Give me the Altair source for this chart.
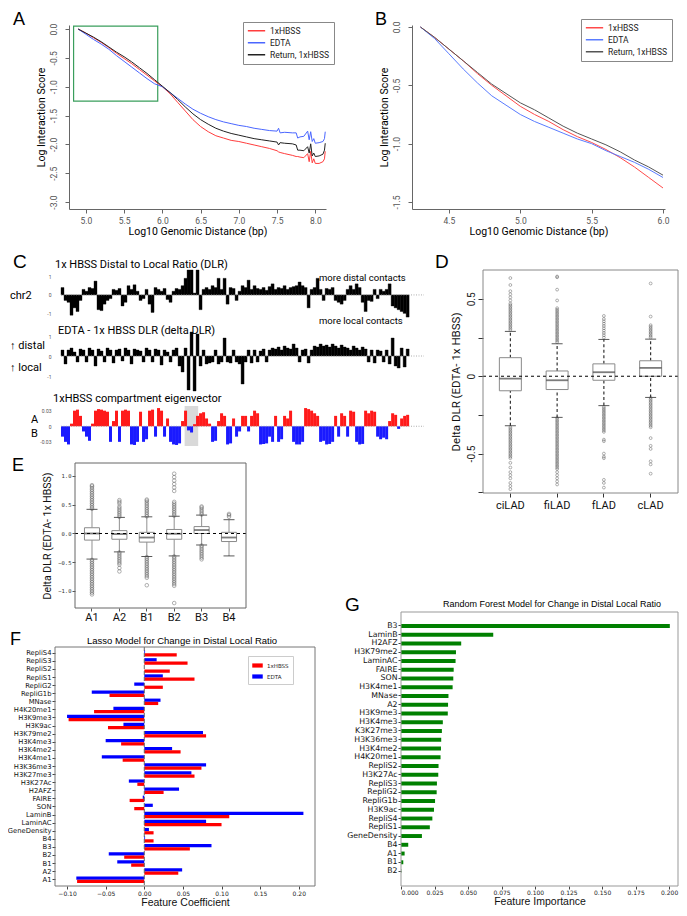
import altair as alt
import pandas as pd

SANS = "Roboto"
ARIAL = "Liberation Sans"
MPL = "DejaVu Sans"

# ---------------- Panel A: contact decay ----------------
A_X = [4.90, 5.00, 5.10, 5.20, 5.30, 5.40, 5.50, 5.60, 5.70, 5.80, 5.90, 6.00, 6.10, 6.20, 6.30,
       6.40, 6.50, 6.60, 6.70, 6.80, 6.90, 7.00, 7.10, 7.20, 7.30, 7.40, 7.50, 7.52, 7.54, 7.60,
       7.70, 7.75, 7.77, 7.80, 7.85, 7.90, 7.92, 7.94, 7.96, 7.98, 8.00, 8.05, 8.10, 8.12, 8.13]
A_HBSS = [0.00, -0.07, -0.15, -0.23, -0.32, -0.42, -0.51, -0.60, -0.70, -0.80, -0.90, -1.00, -1.12,
          -1.27, -1.42, -1.57, -1.69, -1.78, -1.85, -1.89, -1.93, -1.95, -1.98, -2.01, -2.04, -2.07,
          -2.11, -2.13, -2.14, -2.16, -2.19, -2.21, -2.21, -2.22, -2.23, -2.16, -2.30, -2.12, -2.32,
          -2.25, -2.33, -2.33, -2.30, -2.25, -2.12]
A_EDTA = [0.00, -0.09, -0.18, -0.26, -0.35, -0.46, -0.56, -0.66, -0.76, -0.86, -0.95, -1.00, -1.10,
          -1.20, -1.30, -1.39, -1.46, -1.52, -1.57, -1.61, -1.64, -1.67, -1.69, -1.72, -1.74, -1.76,
          -1.77, -1.72, -1.80, -1.79, -1.80, -1.80, -1.89, -1.87, -1.86, -1.77, -1.92, -1.78, -1.95,
          -1.90, -1.98, -1.97, -1.95, -1.90, -1.78]
A_RETURN = [0.00, -0.07, -0.14, -0.22, -0.31, -0.40, -0.48, -0.57, -0.67, -0.77, -0.88, -0.99, -1.10,
            -1.22, -1.35, -1.47, -1.57, -1.65, -1.72, -1.77, -1.81, -1.84, -1.87, -1.90, -1.92, -1.94,
            -1.96, -2.01, -1.97, -1.98, -1.99, -2.01, -2.10, -2.10, -2.11, -2.04, -2.15, -1.99, -2.20,
            -2.15, -2.21, -2.20, -2.17, -2.10, -1.98]
A_ZOOM_BOX = {"x0": [4.84], "x1": [5.94], "y0": [-1.25], "y1": [0.05]}

# ---------------- Panel B: zoomed decay ----------------
B_X = [4.30, 4.40, 4.50, 4.60, 4.70, 4.80, 4.90, 5.00, 5.10, 5.20, 5.30, 5.40, 5.50, 5.60, 5.70,
       5.80, 5.90, 6.00]
B_HBSS = [0.00, -0.09, -0.19, -0.29, -0.40, -0.50, -0.59, -0.68, -0.75, -0.81, -0.88, -0.94, -0.99,
          -1.05, -1.12, -1.20, -1.29, -1.38]
B_EDTA = [0.00, -0.10, -0.23, -0.36, -0.48, -0.59, -0.67, -0.75, -0.81, -0.86, -0.91, -0.96, -1.00,
          -1.06, -1.11, -1.16, -1.22, -1.29]
B_RETURN = [0.00, -0.09, -0.19, -0.29, -0.39, -0.49, -0.57, -0.65, -0.71, -0.78, -0.85, -0.91, -0.96,
            -1.01, -1.07, -1.14, -1.20, -1.27]

SERIES = ["1xHBSS", "EDTA", "Return, 1xHBSS"]

# ---------------- Panel C: chr2 tracks (2.1 Mb bins) ----------------
BIN_MB = 2.1
C_DLR = [0.4, -0.3, -0.4, -1.1, -0.7, -0.9, -0.3, 0.3, 0.2, 0.4,
         0.35, 0.75, -0.8, -0.85, -0.5, -0.3, -0.2, 0.3, 0.25, 0.35,
         -0.6, -0.4, 0.5, 0.3, 0.55, 0.2, -0.3, -0.2, 0.3, -0.5,
         -0.95, 0.4, 0.3, 0.2, 0.35, -0.25, -0.4, 0.2, 0.35, 0.3,
         0.5, 0.9, 1.35, 1.35, 0.1, 1.35, -0.8, 0.3, 0.4, 0.3,
         0.5, 0.4, 0.9, 0.3, 0.9, -0.5, 0.4, 0.35, -0.3, 0.2,
         0.5, 0.4, 0.8, 0.3, 0.5, 0.35, 0.3, 0.4, 0.25, 0.45,
         0.6, 0.3, 0.4, 0.35, 0.5, 0.3, 0.4, 0.45, 0.5, 0.7,
         0.5, 0.4, -0.7, 0.3, 0.4, 0.9, 0.3, -0.3, 0.35, 0.3,
         0.4, -0.3, -0.4, -0.5, -0.3, 0.3, 0.5, 0.3, 0.6, 0.4,
         -0.4, -0.9, -0.3, -0.35, 0.3, -0.2, 0.3, 0.2, 0.3, 0.6,
         -0.6, -0.7, -0.8, -0.9, -1.0, -1.2]
C_DELTA = [0.3, -0.4, 0.3, 0.4, 0.2, -0.3, 0.35, 0.3, -0.3, 0.4,
           0.3, -0.5, 0.35, 0.25, -0.3, 0.4, 0.3, -0.35, 0.3, 0.35,
           -0.25, 0.4, 0.3, -0.4, 0.35, 0.3, 0.25, -0.3, 0.4, 0.3,
           -0.3, 0.35, 0.3, -0.45, 0.3, 0.2, -0.3, 0.3, 0.4, -0.5,
           -0.8, 0.4, -1.7, 1.2, -1.75, 1.1, -0.5, 0.3, -0.4, -0.35,
           -0.3, 0.3, -0.4, -0.3, 0.9, -0.3, -0.35, 0.3, -0.3, -0.4,
           -1.4, -0.3, 0.3, -0.35, 0.3, -0.3, 0.25, 0.35, -0.3, 0.3,
           0.4, 0.35, 0.45, 0.3, 0.5, 0.4, 0.35, 0.6, 0.4, -0.3,
           0.3, 0.35, -0.35, 0.3, 0.5, 0.45, 0.6, 0.5, 0.55, 0.45,
           0.6, 0.5, 0.4, 0.55, 0.45, 0.4, 0.3, 0.5, 0.4, 0.3,
           0.45, 0.35, -0.3, 0.3, -0.35, 0.3, 0.25, -0.3, 0.3, -0.4,
           0.9, -0.5, -0.6, 0.4, -0.55, 0.35]
C_EIG = [-0.02, -0.03, -0.035, 0.005, 0.03, 0.032, 0.02, -0.01, -0.02, -0.028,
         0.005, 0.03, 0.033, 0.032, 0.03, 0.028, -0.03, 0.01, 0.03, -0.03,
         0.03, 0.032, 0.03, -0.035, -0.036, -0.03, 0.028, -0.03, -0.025, 0.03,
         0.032, -0.02, 0.035, 0.03, -0.02, 0.015, -0.03, -0.035, -0.036, -0.033,
         0.01, 0.03, -0.008, -0.012, 0.004, 0.02, 0.025, 0.027, 0.015, 0.005,
         -0.03, -0.028, 0.01, 0.025, 0.02, -0.035, -0.033, 0.015, -0.02, -0.01,
         0.02, 0.02, -0.01, 0.02, 0.03, 0.025, -0.035, -0.034, -0.033, -0.02,
         -0.03, 0.02, -0.03, -0.025, 0.02, 0.015, 0.03, -0.03, -0.035, -0.035,
         -0.03, 0.035, 0.033, 0.03, 0.025, 0.02, -0.03, -0.028, -0.035, -0.034,
         -0.03, 0.02, -0.02, 0.025, 0.02, -0.02, 0.03, 0.028, -0.03, -0.035,
         -0.034, 0.03, 0.025, 0.03, 0.028, -0.02, -0.025, -0.022, -0.025, 0.01,
         0.025, 0.022, -0.005, 0.015, 0.02, 0.022]
C_CENTROMERE = {"s": [86.5], "e": [96.0]}

# ---------------- Panel D: LAD classes ----------------
D_CATS = ["ciLAD", "fiLAD", "fLAD", "cLAD"]
D_Q1 = [-0.094, -0.086, -0.026, 0.0]
D_Q3 = [0.12, 0.034, 0.08, 0.10]
D_MED = [-0.015, -0.026, 0.026, 0.054]
D_LO = [-0.32, -0.266, -0.19, -0.137]
D_HI = [0.29, 0.21, 0.238, 0.24]
D_OUT = {
    "ciLAD": [0.30, 0.31, 0.32, 0.33, 0.34, 0.35, 0.36, 0.37, 0.38, 0.39, 0.40, 0.41, 0.42, 0.43,
              0.44, 0.45, 0.46, 0.47, 0.49, 0.51, 0.53, 0.55, 0.59, 0.635,
              -0.33, -0.34, -0.35, -0.36, -0.37, -0.38, -0.39, -0.40, -0.41, -0.42, -0.43, -0.44,
              -0.45, -0.46, -0.47, -0.48, -0.49, -0.50, -0.51, -0.52, -0.53, -0.56, -0.59, -0.62,
              -0.64, -0.66, -0.69, -0.71, -0.73],
    "fiLAD": [0.22, 0.23, 0.24, 0.25, 0.26, 0.27, 0.28, 0.29, 0.30, 0.31, 0.32, 0.33, 0.34, 0.35,
              0.36, 0.37, 0.38, 0.39, 0.40, 0.41, 0.42, 0.43, 0.44, 0.49, 0.56, 0.64, 0.645,
              -0.27, -0.28, -0.29, -0.30, -0.31, -0.32, -0.33, -0.34, -0.35, -0.36, -0.37, -0.38,
              -0.39, -0.40, -0.41, -0.42, -0.43, -0.44, -0.45, -0.46, -0.47, -0.48, -0.49, -0.50,
              -0.51, -0.52, -0.53, -0.54, -0.55, -0.56, -0.57, -0.58, -0.59, -0.60, -0.62, -0.64,
              -0.66, -0.68, -0.70],
    "fLAD": [0.25, 0.265, 0.28, 0.295, 0.31, 0.325, 0.34, 0.355, 0.37, 0.39,
             -0.20, -0.21, -0.22, -0.23, -0.24, -0.25, -0.26, -0.27, -0.28, -0.29, -0.30, -0.31,
             -0.32, -0.33, -0.34, -0.35, -0.36, -0.41, -0.42, -0.50, -0.52, -0.53, -0.67, -0.69,
             -0.72],
    "cLAD": [0.25, 0.26, 0.27, 0.28, 0.29, 0.30, 0.31, 0.32, 0.33, 0.386, 0.60,
             -0.14, -0.15, -0.16, -0.17, -0.18, -0.19, -0.20, -0.21, -0.22, -0.23, -0.24, -0.25,
             -0.26, -0.27, -0.28, -0.29, -0.30, -0.31, -0.32, -0.33, -0.40, -0.45, -0.47, -0.55,
             -0.57, -0.63],
}

# ---------------- Panel E: subcompartments ----------------
E_CATS = ["A1", "A2", "B1", "B2", "B3", "B4"]
E_Q1 = [-0.115, -0.10, -0.15, -0.10, 0.0, -0.14]
E_Q3 = [0.10, 0.05, 0.02, 0.07, 0.12, 0.02]
E_MED = [0.0, -0.01, -0.07, -0.005, 0.06, -0.07]
E_LO = [-0.445, -0.32, -0.40, -0.39, -0.20, -0.39]
E_HI = [0.42, 0.28, 0.29, 0.30, 0.32, 0.24]
E_OUT = {
    "A1": [0.43, 0.46, 0.49, 0.52, 0.55, 0.58, 0.61, 0.64, 0.67, 0.70, 0.73, 0.76, 0.79, 0.82, 0.84,
           -0.46, -0.49, -0.52, -0.55, -0.58, -0.61, -0.64, -0.67, -0.70, -0.73, -0.76, -0.79,
           -0.82, -0.85, -0.88, -0.91, -0.94, -0.97, -1.00, -1.03, -1.06],
    "A2": [0.29, 0.32, 0.35, 0.38, 0.41, 0.44, 0.47, 0.52, 0.55, 0.58,
           -0.33, -0.36, -0.39, -0.42, -0.45, -0.48, -0.51, -0.54, -0.60, -0.66],
    "B1": [0.30, 0.33, 0.36, 0.39, 0.42, 0.45, 0.48, 0.51, 0.54, 0.57, 0.59,
           -0.41, -0.44, -0.47, -0.50, -0.53, -0.56, -0.59, -0.62, -0.65, -0.68, -0.71, -0.74,
           -0.77, -0.90],
    "B2": [0.31, 0.34, 0.37, 0.40, 0.43, 0.46, 0.49, 0.52, 0.55, 0.74, 0.80, 0.86, 0.92, 0.98, 1.04,
           -0.40, -0.43, -0.46, -0.49, -0.52, -0.55, -0.58, -0.61, -0.64, -0.67, -0.70, -0.73,
           -0.76, -0.79, -0.82, -0.85, -0.88, -0.91, -1.21],
    "B3": [0.33, 0.36, 0.39, 0.42, 0.45, 0.47,
           -0.21, -0.24, -0.27, -0.30, -0.33, -0.36, -0.39, -0.42, -0.45],
    "B4": [0.29, 0.32, 0.34],
}

# ---------------- Panel F: Lasso coefficients ----------------
F_FEATURES = ["RepliS4", "RepliS3", "RepliS2", "RepliS1", "RepliG2", "RepliG1b", "MNase", "H4K20me1",
              "H3K9me3", "H3K9ac", "H3K79me2", "H3K4me3", "H3K4me2", "H3K4me1", "H3K36me3",
              "H3K27me3", "H3K27Ac", "H2AFZ", "FAIRE", "SON", "LaminB", "LaminAC", "GeneDensity",
              "B4", "B3", "B2", "B1", "A2", "A1"]
F_HBSS = [0.042, 0.056, 0.033, 0.065, 0.024, -0.045, 0.018, -0.065, -0.098, -0.047, 0.080, -0.030,
          0.047, -0.028, 0.074, 0.065, -0.009, 0.025, -0.019, -0.013, 0.110, 0.100, 0.012, 0.012,
          0.059, -0.026, -0.017, 0.044, -0.087]
F_EDTA = [0.001, 0.016, 0.0, 0.024, -0.013, -0.068, 0.021, -0.040, -0.100, -0.027, 0.076, -0.050,
          0.036, -0.055, 0.080, 0.061, -0.020, 0.045, -0.002, 0.011, 0.206, 0.080, 0.006, 0.001,
          0.087, -0.046, -0.035, 0.049, -0.088]

# ---------------- Panel G: Random forest importance ----------------
G_FEATURES = ["B3", "LaminB", "H2AFZ", "H3K79me2", "LaminAC", "FAIRE", "SON", "H3K4me1", "MNase", "A2",
              "H3K9me3", "H3K4me3", "K3K27me3", "H3K36me3", "H3K4me2", "H4K20me1", "RepliS2",
              "H3K27Ac", "RepliS3", "RepliG2", "RepliG1b", "H3K9ac", "RepliS4", "RepliS1",
              "GeneDensity", "B4", "A1", "B1", "B2"]
G_IMP = [0.2005, 0.0688, 0.0449, 0.0410, 0.0407, 0.0393, 0.0390, 0.0385, 0.0354, 0.0351, 0.0349,
         0.0312, 0.0305, 0.0300, 0.0298, 0.0295, 0.0280, 0.0278, 0.0268, 0.0266, 0.0254, 0.0246,
         0.0234, 0.0215, 0.0156, 0.0054, 0.0027, 0.0017, 0.0002]

# ======================= page geometry (pixels in the figure) =======================
W, H = 671, 900          # drawing area; page margin is 8 px


def gx(x):
    return x - 8


def gy(y):
    return y - 8


def x_off(bottom):       # offset that puts a bottom axis at figure row `bottom`
    return gy(bottom) - H


def y_off(left):         # offset that puts a left axis at figure column `left`
    return -gx(left)


def label(text, x, y, size=11, font=SANS, align="left", baseline="alphabetic", color="black"):
    return alt.Chart(pd.DataFrame({"t": [text]})).mark_text(
        align=align, baseline=baseline, fontSize=size, font=font, color=color
    ).encode(text="t:N", x=alt.value(gx(x)), y=alt.value(gy(y)))


def frame(x0, x1, y0, y1, color):
    return alt.Chart(pd.DataFrame({"f": [0]})).mark_rect(
        fillOpacity=0, stroke=color, strokeWidth=1).encode(
        x=alt.value(gx(x0)), x2=alt.value(gx(x1)), y=alt.value(gy(y0)), y2=alt.value(gy(y1)))


R_FMT = "replace(format(datum.value, '.1f'), '\u2212', '-')"


# ---------------- A & B ----------------
def decay_panel(xs, series_vals, xdom, ydom, xticks, yticks, colors, box_px, leg_xy, letter_xy,
                letter, zoom_box=None):
    x0, x1, y0, y1 = box_px
    rows = []
    for name, vals in zip(SERIES, series_vals):
        for xv, yv in zip(xs, vals):
            rows.append({"x": xv, "y": yv, "cond": name})
    df = pd.DataFrame(rows)
    xax = alt.Axis(orient="bottom", offset=x_off(y1), values=xticks, labelExpr=R_FMT,
                   title="Log10 Genomic Distance (bp)", labelFontSize=8.5, labelColor="#555",
                   tickSize=4, labelPadding=3, titleFontSize=10.5, titlePadding=2,
                   domainColor="#666", tickColor="#666")
    yax = alt.Axis(orient="left", offset=y_off(x0), values=yticks, labelExpr=R_FMT,
                   title="Log Interaction Score", labelAngle=-90, labelFontSize=8.5,
                   labelColor="#555", tickSize=4, labelPadding=7, titleFontSize=10.5,
                   titlePadding=3, domainColor="#666", tickColor="#666")
    xsc = alt.Scale(domain=xdom, range=[gx(x0), gx(x1)], nice=False, zero=False)
    ysc = alt.Scale(domain=ydom, range=[gy(y1), gy(y0)], nice=False, zero=False)
    layers = []
    if zoom_box is not None:
        bdf = pd.DataFrame({"x": zoom_box["x0"], "x2": zoom_box["x1"],
                            "y": zoom_box["y0"], "y2": zoom_box["y1"]})
        layers.append(alt.Chart(bdf).mark_rect(fillOpacity=0, stroke="#3a9e5c", strokeWidth=1.2).encode(
            x=alt.X("x:Q", scale=xsc, axis=xax), x2="x2:Q",
            y=alt.Y("y:Q", scale=ysc, axis=yax), y2="y2:Q"))
    layers.append(alt.Chart(df).mark_line(strokeWidth=1).encode(
        x=alt.X("x:Q", scale=xsc, axis=xax),
        y=alt.Y("y:Q", scale=ysc, axis=yax),
        color=alt.Color("cond:N", scale=alt.Scale(domain=SERIES, range=colors),
                        legend=alt.Legend(title=None, orient="none", legendX=gx(leg_xy[0]),
                                          legendY=gy(leg_xy[1]), symbolType="stroke",
                                          symbolSize=300, symbolStrokeWidth=1.5, labelFont=SANS,
                                          labelFontSize=8.5, labelColor="#222", strokeColor="#888",
                                          fillColor="white", padding=4, rowPadding=2,
                                          clipHeight=9.5, labelOffset=4)),
    ))
    layers.append(label(letter, letter_xy[0], letter_xy[1], size=18, font=ARIAL))
    return alt.layer(*layers)


A = decay_panel(A_X, [A_HBSS, A_EDTA, A_RETURN], [4.78, 8.14], [-3.12, 0.07],
                [5.0, 5.5, 6.0, 6.5, 7.0, 7.5, 8.0], [-3.0, -2.5, -2.0, -1.5, -1.0, -0.5, 0.0],
                ["#ff3d3d", "#4a66ff", "#222222"], (69, 326, 25, 209), (243, 22), (13, 25), "A",
                zoom_box=A_ZOOM_BOX)
B = decay_panel(B_X, [B_HBSS, B_EDTA, B_RETURN], [4.241, 6.014], [-1.56, 0.017],
                [4.5, 5.0, 5.5, 6.0], [-1.5, -1.0, -0.5, 0.0],
                ["#ff4a4a", "#5a7cff", "#555555"], (412, 665, 25, 209), (581, 19), (375, 25), "B")

# ---------------- C tracks ----------------
C_X0, C_X1 = 61, 424
XC = alt.Scale(domain=[0, 254], range=[gx(C_X0), gx(C_X1)], nice=False, zero=False)


def track(vals, ydom, yrows, yvals, ylabel_expr, kind, extra):
    top, bottom = yrows
    df = pd.DataFrame({"i": list(range(len(vals))), "v": vals})
    ysc = alt.Scale(domain=ydom, range=[gy(bottom), gy(top)], nice=False, zero=False)
    yax = alt.Axis(orient="left", offset=y_off(C_X0), values=yvals, labelExpr=ylabel_expr,
                   title=None, labelFontSize=5, labelColor="#555", domain=False, ticks=False,
                   tickSize=0, labelPadding=10)
    base = alt.Chart(df).transform_calculate(
        s=f"datum.i * {BIN_MB}", e=f"(datum.i + 1) * {BIN_MB}")
    layers = []
    if kind == "black":
        layers.append(base.mark_bar(color="black", stroke="black", strokeWidth=0.35).encode(
            x=alt.X("s:Q", scale=XC, axis=None), x2="e:Q",
            y=alt.Y("v:Q", scale=ysc, axis=yax), y2=alt.datum(0)))
    else:
        cdf = pd.DataFrame(C_CENTROMERE)
        layers.append(alt.Chart(cdf).mark_rect(color="#d9d9d9").encode(
            x=alt.X("s:Q", scale=XC, axis=None), x2="e:Q",
            y=alt.value(gy(top)), y2=alt.value(gy(bottom))))
        layers.append(base.mark_bar().encode(
            x=alt.X("s:Q", scale=XC, axis=None), x2="e:Q",
            y=alt.Y("v:Q", scale=ysc, axis=yax), y2=alt.datum(0),
            color=alt.condition("datum.v > 0", alt.value("#ff1a1a"), alt.value("#1a1aff"))))
    layers.append(alt.Chart(pd.DataFrame({"z": [0]})).mark_rule(
        color="#999", strokeDash=[1, 1.5], strokeWidth=0.8).encode(
        x=alt.value(gx(C_X0)), x2=alt.value(gx(C_X1)),
        y=alt.Y("z:Q", scale=ysc, axis=yax)))
    layers.extend(extra)
    return alt.layer(*layers)


INT_LBL = "datum.value == -1 ? '-1' : format(datum.value, 'd')"
C1 = track(C_DLR, [-1.25, 1.35], (270, 318), [-1, 0, 1], INT_LBL, "black",
           [label("C", 13, 268, size=19, font=ARIAL),
            label("1x HBSS Distal to Local Ratio (DLR)", 55, 268, size=11),
            label("chr2", 10, 299, size=11),
            label("more distal contacts", 319, 281, size=9.5),
            label("more local contacts", 319, 324, size=9.5)])
C2 = track(C_DELTA, [-1.9, 1.3], (330, 394), [-1, 0, 1], INT_LBL, "black",
           [label("EDTA - 1x HBSS DLR (delta DLR)", 58, 334, size=11),
            label("\u2191 distal", 10, 349, size=11),
            label("\u2191 local", 10, 371, size=11)])
C3 = track(C_EIG, [-0.038, 0.039], (406, 446), [-0.03, 0, 0.03],
           "datum.value == 0 ? '0' : datum.value > 0 ? '0.03' : '-0.03'", "eig",
           [label("1xHBSS compartment eigenvector", 53, 402, size=11),
            label("A", 31, 423, size=11),
            label("B", 31, 437, size=11)])


# ---------------- box plots ----------------
def box_panel(cats, q1, q3, med, lo, hi, outs, ydom, box_px, yaxis_kw, xaxis_kw, pin, pout, box_w,
              cap_w, whisk_color, whisk_dash, pt_size, extra, frame_color):
    x0, x1, y0, y1 = box_px
    stats = pd.DataFrame({"cat": cats, "q1": q1, "q3": q3, "med": med, "lo": lo, "hi": hi})
    odf = pd.DataFrame([{"cat": c, "val": v} for c in cats for v in outs.get(c, [])])
    xsc = alt.Scale(domain=cats, range=[gx(x0), gx(x1)], paddingInner=pin, paddingOuter=pout)
    ysc = alt.Scale(domain=ydom, range=[gy(y1), gy(y0)], nice=False, zero=False)
    xaxis = alt.Axis(orient="bottom", offset=x_off(y1), **xaxis_kw)
    yaxis = alt.Axis(orient="left", offset=y_off(x0), **yaxis_kw)

    def X():
        return alt.X("cat:N", sort=cats, scale=xsc, axis=xaxis)

    def Y(f):
        return alt.Y(f + ":Q", scale=ysc, axis=yaxis)

    base = alt.Chart(stats)
    wopts = dict(color=whisk_color, strokeWidth=1.1)
    if whisk_dash:
        wopts["strokeDash"] = whisk_dash
    layers = [
        base.mark_rule(**wopts).encode(x=X(), y=Y("lo"), y2="q1:Q"),
        base.mark_rule(**wopts).encode(x=X(), y=Y("q3"), y2="hi:Q"),
        base.mark_tick(color="#111", size=cap_w, thickness=1).encode(x=X(), y=Y("lo")),
        base.mark_tick(color="#111", size=cap_w, thickness=1).encode(x=X(), y=Y("hi")),
        base.mark_bar(fill="white", stroke="#8a8a8a", strokeWidth=1).encode(x=X(), y=Y("q1"), y2="q3:Q"),
        base.mark_tick(color="#444", size=box_w, thickness=1.8).encode(x=X(), y=Y("med")),
        alt.Chart(odf).mark_point(shape="circle", size=pt_size, filled=False, color="#444",
                                  strokeWidth=0.6).encode(x=X(), y=Y("val")),
        alt.Chart(pd.DataFrame({"z": [0]})).mark_rule(color="black", strokeDash=[3, 3], strokeWidth=1).encode(
            x=alt.value(gx(x0)), x2=alt.value(gx(x1)), y=Y("z")),
        frame(x0, x1, y0, y1, frame_color),
    ]
    layers.extend(extra)
    return alt.layer(*layers)


D = box_panel(D_CATS, D_Q1, D_Q3, D_MED, D_LO, D_HI, D_OUT, [-0.755, 0.687], (483, 678, 270, 493),
              dict(values=[-0.75, -0.5, -0.25, 0, 0.25, 0.5],
                   labelExpr="datum.value == 0.5 ? '0.5' : datum.value == 0 ? '0' : datum.value == -0.5 ? '-0.5' : ''",
                   labelAngle=-90, labelFontSize=10, labelColor="#222", tickSize=5, tickColor="#333",
                   labelPadding=2, domain=False, title="Delta DLR (EDTA- 1x HBSS)", titleFontSize=11.5,
                   titlePadding=5, titleColor="#111"),
              dict(title=None, labelAngle=0, labelFontSize=11, labelColor="#111", tickSize=4,
                   tickColor="#333", labelPadding=2, domain=False),
              0.53, 0.35, 22, 11, "#222", [3, 2.5], 8,
              [label("D", 435, 268, size=19, font=ARIAL)], "#888")

E = box_panel(E_CATS, E_Q1, E_Q3, E_MED, E_LO, E_HI, E_OUT, [-1.296, 1.226], (75, 246, 463, 608),
              dict(values=[-1.0, -0.5, 0.0, 0.5, 1.0], format=".1f", labelFont="DejaVu Sans Mono",
                   labelFontSize=5.5, labelColor="#333", tickSize=3, tickColor="#555", labelPadding=1,
                   domain=False, title="Delta DLR (EDTA- 1x HBSS)", titleFontSize=10.5, titlePadding=5,
                   titleColor="#111"),
              dict(title=None, labelAngle=0, labelFontSize=11, labelColor="#111", tickSize=3,
                   tickColor="#555", labelPadding=0, domain=False),
              0.45, 0.345, 15, 11, "#9a9a9a", None, 13,
              [label("E", 12, 471, size=18, font=ARIAL)], "#666")

# ---------------- F: lasso ----------------
FX0, FX1, FY0, FY1 = 55, 315, 647, 886
frows = []
for f, hv, ev in zip(F_FEATURES, F_HBSS, F_EDTA):
    frows.append({"feat": f, "cond": "EDTA", "coef": ev})
    frows.append({"feat": f, "cond": "1xHBSS", "coef": hv})
fdf = pd.DataFrame(frows)
F_xsc = alt.Scale(domain=[-0.1156, 0.221], range=[gx(FX0), gx(FX1)], nice=False, zero=False)
F_xax = alt.Axis(orient="bottom", offset=x_off(FY1), values=[-0.1, -0.05, 0.0, 0.05, 0.1, 0.15, 0.2],
                 format=".2f", labelFont=MPL, labelFontSize=6, labelColor="#222", tickSize=3,
                 tickColor="#444", labelPadding=1, domain=False, title="Feature Coefficient",
                 titleFont=ARIAL, titleFontSize=10.5, titlePadding=1, titleColor="#111")
F_bars = alt.Chart(fdf).mark_bar().encode(
    y=alt.Y("feat:N", sort=F_FEATURES,
            scale=alt.Scale(domain=F_FEATURES, range=[gy(FY0), gy(FY1)], paddingInner=0, paddingOuter=0.28),
            axis=alt.Axis(orient="left", offset=y_off(FX0), title=None, labelFont=MPL, labelFontSize=6.8,
                          labelColor="#111", tickSize=3, tickColor="#444", labelPadding=1, domain=False)),
    yOffset=alt.YOffset("cond:N", scale=alt.Scale(domain=["EDTA", "1xHBSS"], paddingOuter=0.25)),
    x=alt.X("coef:Q", scale=F_xsc, axis=F_xax),
    color=alt.Color("cond:N", scale=alt.Scale(domain=["1xHBSS", "EDTA"], range=["#ff0000", "#0000ff"]),
                    legend=alt.Legend(title=None, orient="none", legendX=gx(248), legendY=gy(656),
                                      symbolType="M-1,-0.4H1V0.4H-1Z", symbolSize=110,
                                      symbolStrokeWidth=0, labelFont=MPL, labelFontSize=5.5,
                                      labelColor="#222", strokeColor="#ccc", fillColor="white",
                                      padding=4, rowPadding=2, labelOffset=4)),
)
F_zero = alt.Chart(pd.DataFrame({"z": [0]})).mark_rule(color="#666", strokeDash=[4, 2], strokeWidth=1).encode(
    x=alt.X("z:Q", scale=F_xsc, axis=F_xax), y=alt.value(gy(FY0)), y2=alt.value(gy(FY1)))
F = alt.layer(F_bars, F_zero, frame(FX0, FX1, FY0, FY1, "#777"),
              label("Lasso Model for Change in Distal Local Ratio", 182, 641, size=9.5, font=ARIAL,
                    align="center", baseline="middle"),
              label("F", 10, 645, size=18, font=ARIAL))

# ---------------- G: random forest ----------------
GX0, GX1, GY0, GY1 = 401, 678, 612, 886
gdf = pd.DataFrame({"feat": G_FEATURES, "imp": G_IMP})
G_bars = alt.Chart(gdf).mark_bar(color="#008000").encode(
    y=alt.Y("feat:N", sort=G_FEATURES,
            scale=alt.Scale(domain=G_FEATURES, range=[gy(624), gy(873)], paddingInner=0.55, paddingOuter=0),
            axis=alt.Axis(orient="left", offset=y_off(GX0), title=None, labelFont=MPL, labelFontSize=7.8,
                          labelColor="#111", tickSize=3, tickColor="#444", labelPadding=1, domain=False)),
    x=alt.X("imp:Q", scale=alt.Scale(domain=[0, 0.2066], range=[gx(GX0), gx(GX1)], nice=False, zero=False),
            axis=alt.Axis(orient="bottom", offset=x_off(GY1),
                          values=[0, 0.025, 0.05, 0.075, 0.1, 0.125, 0.15, 0.175, 0.2], format=".3f",
                          labelFont=MPL, labelFontSize=6, labelColor="#222", tickSize=3, tickColor="#444",
                          labelPadding=0, domain=False, title="Feature Importance", titleFont=ARIAL,
                          titleFontSize=10.5, titlePadding=1, titleColor="#111")),
)
G = alt.layer(G_bars, frame(GX0, GX1, GY0, GY1, "#999"),
              label("Random Forest Model for Change in Distal Local Ratio", 552, 604, size=9, font=ARIAL,
                    align="center", baseline="middle"),
              label("G", 345, 611, size=19, font=ARIAL))

# ---------------- one drawing area, every panel on its own scales ----------------
chart = alt.layer(A, B, C1, C2, C3, D, E, F, G).resolve_scale(
    x="independent", y="independent", color="independent"
).resolve_axis(x="independent", y="independent").resolve_legend(color="independent").properties(
    width=W, height=H, autosize=alt.AutoSizeParams(type="none"), padding=0
).configure_view(stroke=None).configure_axis(
    grid=False, labelFont=SANS, titleFont=SANS, titleFontWeight="normal")

chart.save("out.html", embed_options={"renderer": "svg", "actions": False})
